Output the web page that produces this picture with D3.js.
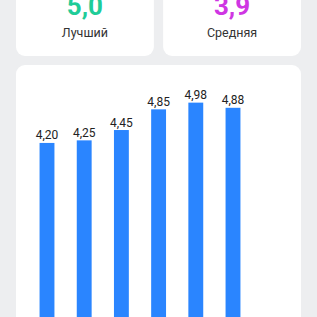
<!DOCTYPE html>
<html><head><meta charset="utf-8">
<script src="https://cdn.jsdelivr.net/npm/d3@7"></script>
<style>
html,body{margin:0;padding:0;background:#edeef0;overflow:hidden;}
svg{display:block;font-family:Roboto,"Noto Sans",sans-serif;}
</style></head><body>
<svg id="c" width="317" height="317"></svg>
<script>
const statLabels = ["Лучший", "Средняя"];
const statValues = ["5,0", "3,9"];
const statColors = ["#1fcc98", "#cf36e3"];
const categories = ["1", "2", "3", "4", "5", "6", "7"];
const values = [4.20, 4.25, 4.45, 4.85, 4.98, 4.88];

const svg = d3.select("#c");
const W = 317, H = 317;

// stat cards
const cardX = d3.scaleBand().domain(statLabels).range([16, 301]).paddingInner(9/285*2);
statLabels.forEach((lab, i) => {
  const x0 = cardX(lab), w = cardX.bandwidth();
  svg.append("rect").attr("x", x0).attr("y", -20).attr("width", w).attr("height", 76)
    .attr("rx", 9).attr("fill", "#fff");
  svg.append("text").attr("x", x0 + w/2).attr("y", 15).attr("text-anchor", "middle")
    .attr("font-size", 26).attr("font-weight", 700).attr("fill", statColors[i]).text(statValues[i]);
  svg.append("text").attr("x", x0 + w/2).attr("y", 37).attr("text-anchor", "middle")
    .attr("font-size", 12.5).attr("fill", "#333").text(lab);
});

// chart card
svg.append("rect").attr("x", 16).attr("y", 65).attr("width", 285).attr("height", 300)
  .attr("rx", 9).attr("fill", "#fff");

const x = d3.scaleBand().domain(categories).range([28.4, 288.8]).paddingInner(0.6).paddingOuter(0.3);
const y = d3.scaleLinear().domain([0, 5]).range([360, 101.6]);

const g = svg.append("g");
g.selectAll("rect.bar").data(values).join("rect").attr("class", "bar")
  .attr("x", (d, i) => x(categories[i]))
  .attr("width", x.bandwidth())
  .attr("y", d => y(d))
  .attr("height", d => y(0) - y(d))
  .attr("fill", "#2a85ff");
g.selectAll("text.val").data(values).join("text").attr("class", "val")
  .attr("x", (d, i) => x(categories[i]) + x.bandwidth()/2)
  .attr("y", d => y(d) - 3.5)
  .attr("text-anchor", "middle").attr("font-size", 12).attr("fill", "#222")
  .text(d => d.toFixed(2).replace(".", ","));
</script>
</body></html>
